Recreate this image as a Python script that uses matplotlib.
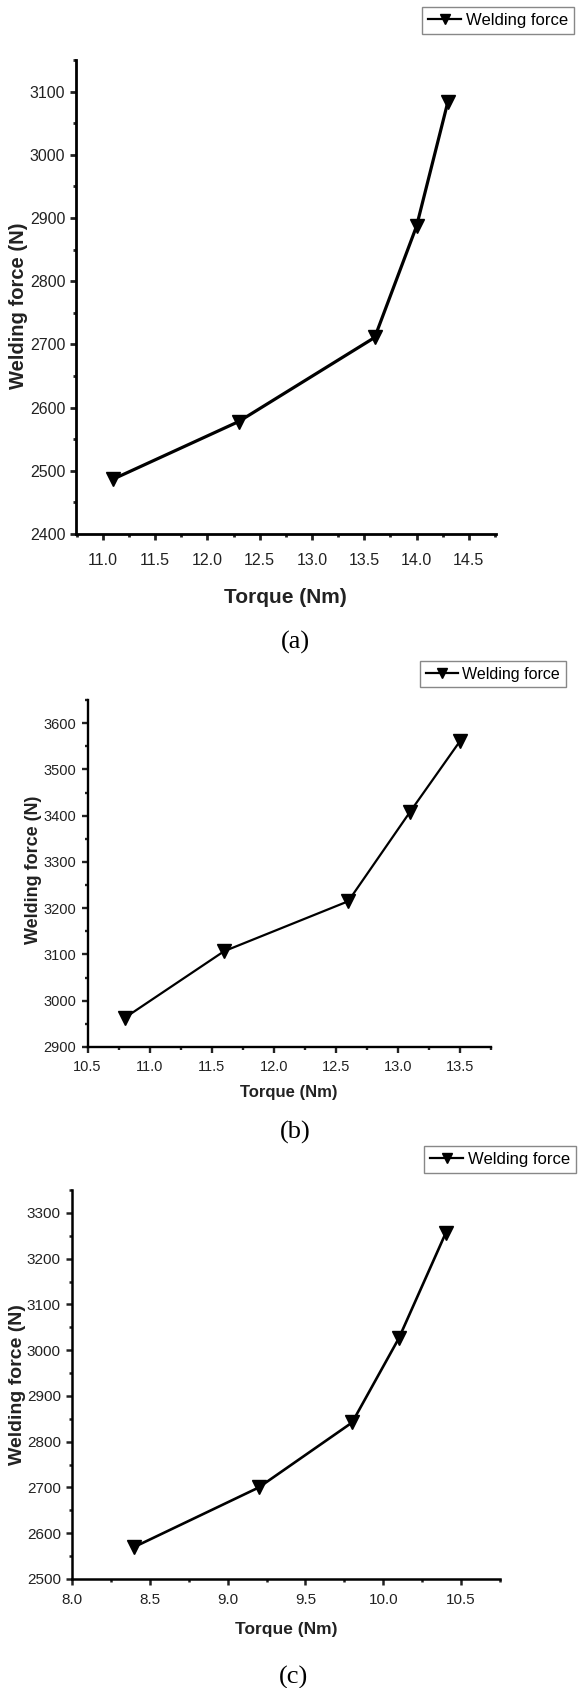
import matplotlib
matplotlib.use("Agg")
import matplotlib.pyplot as plt
from matplotlib.lines import Line2D
from matplotlib.ticker import MultipleLocator, FormatStrFormatter

SANS = "Liberation Sans"
SERIF = "Liberation Serif"

# (a)
torque_a = [11.1, 12.3, 13.6, 14.0, 14.3]
force_a = [2487, 2578, 2711, 2887, 3084]
# (b)
torque_b = [10.8, 11.6, 12.6, 13.1, 13.5]
force_b = [2963, 3107, 3215, 3409, 3561]
# (c)
torque_c = [8.4, 9.2, 9.8, 10.1, 10.4]
force_c = [2570, 2700, 2842, 3026, 3255]

captions = ["(a)", "(b)", "(c)"]
legend_label = "Welding force"
xlabel = "Torque (Nm)"
ylabel = "Welding force (N)"

W, H = 579, 1688
fig = plt.figure(figsize=(W / 100, H / 100), dpi=100)


def rect(left, right, top, bottom):
    # ピクセル座標 -> figure座標
    return [left / W, 1 - bottom / H, (right - left) / W, (bottom - top) / H]


panels = [
    dict(x=torque_a, y=force_a, box=rect(75.7, 496, 60, 534), xlim=(10.74, 14.76), ylim=(2400, 3150),
         lw=2.3, spine=2.0, tickfont=11.5, xlab=15, ylab=14.5,
         xlab_y=-0.135, ylab_x=-0.137, ylab_y=0.482, xpad=9.5, ypad=3,
         leg=(422, 7), legfont=12, cap=(295, 642)),
    dict(x=torque_b, y=force_b, box=rect(87.5, 491, 700, 1047), xlim=(10.5, 13.75), ylim=(2900, 3650),
         lw=1.6, spine=1.7, tickfont=10.5, xlab=12, ylab=13,
         xlab_y=-0.130, ylab_x=-0.1326, ylab_y=0.51, xpad=5, ypad=3.5,
         leg=(420, 661), legfont=11.5, cap=(295, 1132)),
    dict(x=torque_c, y=force_c, box=rect(72, 500, 1190, 1579), xlim=(8.0, 10.75), ylim=(2500, 3350),
         lw=1.9, spine=1.8, tickfont=11, xlab=12.5, ylab=14,
         xlab_y=-0.131, ylab_x=-0.1285, ylab_y=0.50, xpad=5.5, ypad=3.5,
         leg=(424, 1146), legfont=12, cap=(294, 1677)),
]

for p, cap in zip(panels, captions):
    ax = fig.add_axes(p["box"])
    ax.plot(p["x"], p["y"], color="black", lw=p["lw"], marker="v", ms=10,
            markerfacecolor="black", markeredgecolor="black")
    ax.set_xlim(*p["xlim"])
    ax.set_ylim(*p["ylim"])

    for side in ["top", "right"]:
        ax.spines[side].set_visible(False)
    for side in ["left", "bottom"]:
        ax.spines[side].set_linewidth(p["spine"])

    ax.xaxis.set_major_locator(MultipleLocator(0.5))
    ax.xaxis.set_minor_locator(MultipleLocator(0.25))
    ax.yaxis.set_major_locator(MultipleLocator(100))
    ax.yaxis.set_minor_locator(MultipleLocator(50))
    ax.xaxis.set_major_formatter(FormatStrFormatter("%.1f"))
    ax.yaxis.set_major_formatter(FormatStrFormatter("%d"))
    ax.tick_params(which="major", direction="out", length=4.5, width=p["spine"], colors="#222",
                   labelsize=p["tickfont"])
    ax.tick_params(which="minor", direction="out", length=2.2, width=p["spine"], colors="#222")
    ax.tick_params(axis="x", which="major", pad=p["xpad"])
    ax.tick_params(axis="y", which="major", pad=p["ypad"])
    for lab in ax.get_xticklabels() + ax.get_yticklabels():
        lab.set_fontfamily(SANS)

    ax.set_xlabel(xlabel, family=SANS, fontsize=p["xlab"], fontweight="bold", color="#222", va="center")
    ax.xaxis.set_label_coords(0.5, p["xlab_y"])
    ax.set_ylabel(ylabel, family=SANS, fontsize=p["ylab"], fontweight="bold", color="#222",
                  va="center", ha="center")
    ax.yaxis.set_label_coords(p["ylab_x"], p["ylab_y"])

    handle = Line2D([], [], color="black", lw=1.6, marker="v", ms=7)
    lx, ly = p["leg"]
    fig.legend([handle], [legend_label], loc="upper left", bbox_to_anchor=(lx / W, 1 - ly / H),
               borderaxespad=0, borderpad=0.35, handletextpad=0.3, handlelength=2.0,
               fancybox=False, framealpha=1, edgecolor="#888",
               prop=dict(family=SANS, size=p["legfont"]))

    cx, cy = p["cap"]
    fig.text(cx / W, 1 - cy / H, cap, family=SERIF, fontsize=19, ha="center", va="center")

fig.savefig("out.png", dpi=100)
